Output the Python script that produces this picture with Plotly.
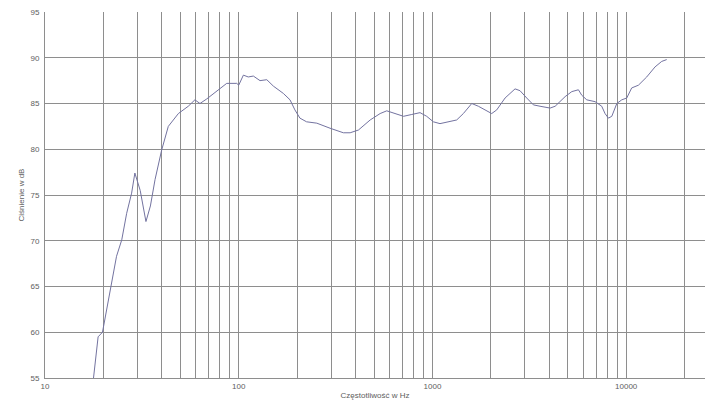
import plotly.graph_objects as go

freq_hz = [17.8, 18.8, 19.8, 21.7, 23.4, 24.9, 26.4, 28.0, 29.1, 31.0, 33.2, 35.0, 37.0, 40.0, 43.3,
           48.8, 54.9, 59.4, 63.1, 68.4, 78.5, 86.7, 97.7, 100, 105.7, 112, 119, 128.8, 139.6,
           151, 170, 184, 195, 207, 224, 253, 296, 347, 376, 415, 477, 537, 581, 654, 709,
           782, 863, 934, 1011, 1094, 1233, 1334, 1444, 1596, 1726, 1869, 2023, 2147, 2371,
           2670, 2832, 3067, 3320, 3594, 4050, 4300, 4840, 5240, 5670, 5900, 6260, 6910,
           7480, 7780, 8100, 8430, 8950, 9490, 10070, 10680, 11570, 12770, 14100, 15260, 16190]
spl_db = [55.0, 59.5, 60.0, 64.6, 68.3, 70.1, 73.0, 75.2, 77.4, 75.5, 72.1, 73.8, 76.7, 79.9, 82.5,
          83.9, 84.7, 85.4, 85.0, 85.5, 86.5, 87.2, 87.2, 87.0, 88.1, 87.9, 88.0, 87.5, 87.6,
          86.9, 86.1, 85.4, 84.3, 83.4, 83.0, 82.85, 82.3, 81.8, 81.8, 82.1, 83.2, 83.9, 84.2, 83.8, 83.6,
          83.8, 84.0, 83.6, 83.0, 82.8, 83.0, 83.2, 83.9, 85.0, 84.7, 84.3, 83.9, 84.3, 85.6,
          86.6, 86.4, 85.6, 84.85, 84.7, 84.5, 84.7, 85.75, 86.3, 86.5, 85.9, 85.4, 85.2,
          84.7, 83.9, 83.4, 83.6, 85.0, 85.4, 85.6, 86.7, 87.0, 87.9, 89.0, 89.6, 89.8]

x_grid_vals = [m * 10 ** e for e in range(1, 5) for m in range(1, 10)] + [20000]
x_tick_labels = ["10", "100", "1000", "10000"]
y_tick_vals = [55, 60, 65, 70, 75, 80, 85, 90, 95]

x_ticktext = [str(v) if str(v) in x_tick_labels else "" for v in x_grid_vals]

fig = go.Figure()
fig.add_trace(go.Scatter(x=freq_hz, y=spl_db, mode="lines",
                         line=dict(color="#7373a0", width=1), showlegend=False))

font = dict(family="Liberation Sans, Arial, sans-serif", size=8, color="#606060")

fig.update_layout(
    width=705, height=410,
    margin=dict(l=45, r=0, t=12, b=32, autoexpand=False),
    paper_bgcolor="white", plot_bgcolor="white",
    font=font,
    xaxis=dict(type="log", range=[1, 4.407], tickmode="array",
               tickvals=x_grid_vals, ticktext=x_ticktext, automargin=False,
               showgrid=True, gridcolor="#8e8e8e", gridwidth=1,
               showline=True, linecolor="#8e8e8e", linewidth=1,
               ticks="", zeroline=False, tickfont=font,
               title=dict(text="Częstotliwość w Hz", font=font, standoff=2)),
    yaxis=dict(range=[55, 95], tickmode="array", tickvals=y_tick_vals, automargin=False,
               showgrid=True, gridcolor="#8e8e8e", gridwidth=1,
               showline=True, linecolor="#8e8e8e", linewidth=1,
               ticks="", zeroline=False, tickfont=font, ticklabelstandoff=3,
               title=dict(text="Ciśnienie w dB", font=font, standoff=4)),
)

fig.write_html("out.html", config={"displayModeBar": False},
               post_script="document.body.style.margin='0';document.body.style.overflow='hidden';")
